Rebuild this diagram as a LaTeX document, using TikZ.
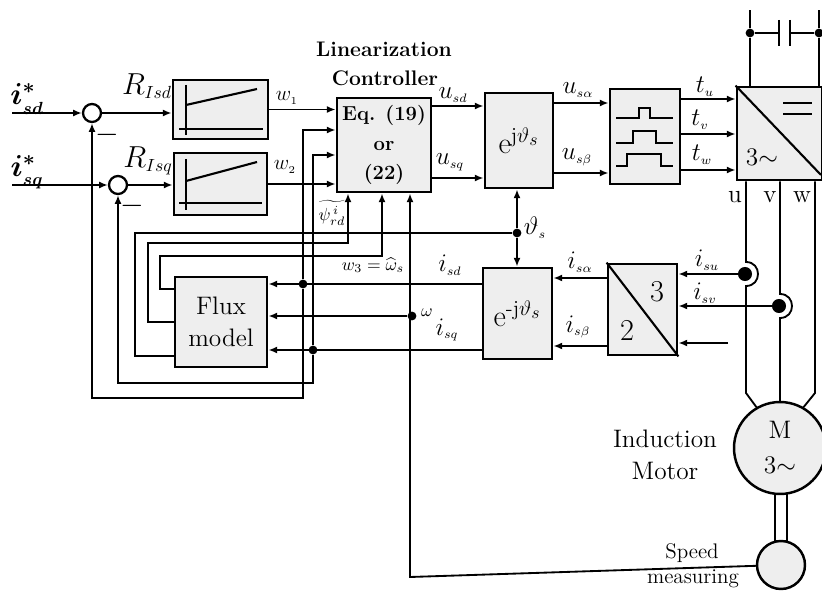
\documentclass[tikz,border=0pt]{standalone}
\usepackage{amsmath,amssymb}
\usepackage{tikz}
\usetikzlibrary{arrows.meta,positioning}
\newcommand{\sbs}[1]{_{\scriptscriptstyle #1}}

\begin{document}
\begin{tikzpicture}[
    x=0.02cm, y=-0.02cm,
    >={Latex[length=5pt,width=4pt]},
    block/.style={draw, line width=1.6pt, fill=gray!13, align=center, inner sep=0pt},
    sumnode/.style={draw, circle, line width=1.3pt, fill=white, minimum size=0.36cm, inner sep=0pt},
    dotnode/.style={circle, fill=black, minimum size=5pt, inner sep=0pt},
    bigdot/.style={circle, fill=black, minimum size=8pt, inner sep=0pt},
    machine/.style={draw, circle, line width=1.4pt, fill=gray!13, align=center, inner sep=0pt},
    wire/.style={line width=1.05pt},
    arrow/.style={->, line width=1.05pt},
    sketch/.style={line width=1.2pt},
    lbl/.style={font=\Large, inner sep=0pt},
    tag/.style={font=\normalsize, inner sep=0pt},
    txt/.style={font=\large, align=center, inner sep=0pt}
]
\useasboundingbox (0,0) rectangle (822,591);
\node[sumnode] (sumd) at (92,113) {};
\node[sumnode] (sumq) at (118,185) {};
\node[block, minimum width=1.90cm, minimum height=1.18cm] (rsd) at (220.5,109.5) {};
\node[block, minimum width=1.86cm, minimum height=1.24cm] (rsq) at (220.5,184) {};
\node[block, minimum width=1.88cm, minimum height=1.88cm, font=\fontsize{11.5}{14}\selectfont\bfseries] (ctrl) at (384,145) {Eq. (19)\\[3pt]or\\[3pt](22)};
\node[block, minimum width=1.36cm, minimum height=1.90cm, font=\LARGE] (etop) at (519,140.5) {e$^{\mathrm{j}\vartheta_s}$};
\node[block, minimum width=1.40cm, minimum height=1.90cm] (pwm) at (645,136.5) {};
\node[block, minimum width=1.70cm, minimum height=1.86cm] (inv) at (779.5,133.5) {};
\node[block, minimum width=1.38cm, minimum height=1.82cm, font=\LARGE] (ebot) at (517.5,313.5) {e$^{\text{-}\mathrm{j}\vartheta_s}$};
\node[block, minimum width=1.38cm, minimum height=1.82cm] (conv) at (642.5,309.5) {};
\node[block, minimum width=1.84cm, minimum height=1.80cm, font=\Large] (flux) at (221,322) {Flux\\model};
\node[machine, minimum size=1.84cm, font=\Large] (motor) at (780,448) {M\\[2pt]3$\sim$};
\node[machine, minimum size=0.96cm] (speed) at (781,565) {};
\coordinate (isdin) at (12,113);
\coordinate (isqin) at (12,185);
\coordinate (speedcorner) at (410,577);
\coordinate (extra) at (728,343);
\node[dotnode] (jisd) at (303,284) {};
\node[dotnode] (jisq) at (313,350) {};
\node[dotnode] (jomega) at (412,316) {};
\node[dotnode] (jtheta) at (517,233) {};
\node[dotnode] (jcapl) at (750,33) {};
\node[dotnode] (jcapr) at (819,33) {};
\node[bigdot] (jsu) at (745,274) {};
\node[bigdot] (jsv) at (779,306) {};
\draw[arrow] (isdin) -- (sumd);
\draw[arrow] (isqin) -- (sumq);
\draw[arrow] (sumd) -- (rsd.west |- sumd);
\draw[arrow] (sumq) -- (rsq.west |- sumq);
\draw[arrow] (rsd.east) -- (rsd.east -| ctrl.west);
\draw[arrow] (rsq.east) -- (rsq.east -| ctrl.west);
\draw[arrow] (ctrl.east |- 0,106) -- (etop.west |- 0,106);
\draw[arrow] (ctrl.east |- 0,178) -- (etop.west |- 0,178);
\draw[arrow] (etop.east |- 0,103) -- (pwm.west |- 0,103);
\draw[arrow] (etop.east |- 0,173) -- (pwm.west |- 0,173);
\draw[arrow] (pwm.east |- 0,99) -- (inv.west |- 0,99);
\draw[arrow] (pwm.east |- 0,134) -- (inv.west |- 0,134);
\draw[arrow] (pwm.east |- 0,170) -- (inv.west |- 0,170);
\draw[arrow] (jtheta) -- (etop.south -| jtheta);
\draw[arrow] (jtheta) -- (ebot.north -| jtheta);
\draw[arrow] (conv.west |- 0,278) -- (ebot.east |- 0,278);
\draw[arrow] (conv.west |- 0,346) -- (ebot.east |- 0,346);
\draw[arrow] (jsu) -- (conv.east |- jsu);
\draw[arrow] (jsv) -- (conv.east |- jsv);
\draw[arrow] (extra) -- (conv.east |- extra);
\draw[arrow] (ebot.west |- jisd) -- (flux.east |- jisd);
\draw[arrow] (ebot.west |- jisq) -- (flux.east |- jisq);
\draw[arrow] (jomega) -- (flux.east |- jomega);
\draw[arrow] (jisd) -- (303,130) -- (ctrl.west |- 0,130);
\draw[arrow] (jisq) -- (313,155) -- (ctrl.west |- 0,155);
\draw[arrow] (jisd) -- (303,398) -- (92,398) -- (sumd);
\draw[arrow] (jisq) -- (313,383) -- (118,383) -- (sumq);
\draw[arrow] (flux.west |- 0,289) -- (160,289) -- (160,256) -- (382,256) -- (ctrl.south -| 382,0);
\draw[arrow] (flux.west |- 0,322) -- (148,322) -- (148,243) -- (348,243) -- (ctrl.south -| 348,0);
\draw[wire] (flux.west |- 0,356) -- (135,356) -- (135,233) -- (jtheta);
\draw[arrow] (speed) -- (speedcorner) -- (ctrl.south -| speedcorner);
\draw[wire] (jcapl) -- (750,10);
\draw[wire] (jcapl) -- (inv.north -| jcapl);
\draw[wire] (jcapr) -- (819,10);
\draw[wire] (jcapr) -- (inv.north -| jcapr);
\draw[wire] (jcapl) -- (779,33);
\draw[wire] (jcapr) -- (790,33);
\draw[sketch] (779,20) -- (779,46);
\draw[sketch] (790,20) -- (790,46);
\draw[wire] (inv.south -| 746,0) -- (746,262) .. controls (762,262) and (762,286) .. (746,286) -- (746,393) -- (motor.120);
\draw[wire] (inv.south -| 780,0) -- (780,294) .. controls (796,294) and (796,318) .. (780,318) -- (motor.north);
\draw[wire] (inv.south -| 815,0) -- (815,393) -- (motor.60);
\draw[wire] (775,494) -- (775,542);
\draw[wire] (787,494) -- (787,542);
\draw[sketch] (inv.north west) -- (821,175);
\draw[sketch] (conv.north west) -- (conv.south east);
\draw[sketch] (783,103) -- (812,103);
\draw[sketch] (783,114) -- (812,114);
\draw[sketch] (186,85) -- (186,135);
\draw[sketch] (179,129) -- (263,129);
\draw[sketch] (186,105) -- (257,89);
\draw[sketch] (186,159) -- (186,210);
\draw[sketch] (179,203) -- (262,203);
\draw[sketch] (186,181) -- (257,162);
\draw[sketch] (616,118) -- (639,118) -- (639,108) -- (650,108) -- (650,118) -- (673,118);
\draw[sketch] (616,143) -- (633,143) -- (633,131) -- (656,131) -- (656,143) -- (673,143);
\draw[sketch] (616,166) -- (627,166) -- (627,154) -- (661,154) -- (661,166) -- (673,166);
\node[txt, font=\large\bfseries] (titlea) at (384,49) {Linearization};
\node[txt, font=\large\bfseries] (titleb) at (385,78) {Controller};
\node[lbl, font=\LARGE\boldmath] (lisd) at (27,99) {$i\sbs{sd}^{*}$};
\node[lbl, font=\LARGE\boldmath] (lisq) at (27,172) {$i\sbs{sq}^{*}$};
\node[lbl, font=\LARGE] (lrsd) at (147,86) {$R\sbs{Isd}$};
\node[lbl, font=\LARGE] (lrsq) at (148,161) {$R\sbs{Isq}$};
\node[tag, font=\large] (lwa) at (287,98) {$w\sbs{1}$};
\node[tag, font=\large] (lwb) at (285,167) {$w\sbs{2}$};
\node[tag] (lwc) at (373,265) {$w_3=\widehat{\omega}_s$};
\node[tag] (lpsi) at (332,213) {$\widetilde{\psi_{rd}^{\,i}}$};
\node[lbl] (lusd) at (453,95) {$u\sbs{sd}$};
\node[lbl] (lusq) at (450,162) {$u\sbs{sq}$};
\node[lbl] (lua) at (578,90) {$u\sbs{s\alpha}$};
\node[lbl] (lub) at (577,157) {$u\sbs{s\beta}$};
\node[lbl] (ltu) at (705,87) {$t\sbs{u}$};
\node[lbl] (ltv) at (700,120) {$t\sbs{v}$};
\node[lbl] (ltw) at (702,155) {$t\sbs{w}$};
\node[lbl] (lth) at (535,228) {$\vartheta\sbs{s}$};
\node[lbl] (lid) at (450,265) {$i\sbs{sd}$};
\node[lbl] (liq) at (447,330) {$i\sbs{sq}$};
\node[tag] (lom) at (427,313) {$\omega$};
\node[lbl] (lia) at (580,262) {$i\sbs{s\alpha}$};
\node[lbl] (lib) at (578,327) {$i\sbs{s\beta}$};
\node[lbl] (liu) at (707,260) {$i\sbs{su}$};
\node[lbl] (liv) at (705,293) {$i\sbs{sv}$};
\node[txt, font=\LARGE] (lminusd) at (107,135) {$-$};
\node[txt, font=\LARGE] (lminusq) at (132,206) {$-$};
\node[txt, font=\Large] (lthree) at (762,157) {3$\sim$};
\node[txt, font=\Large] (lu) at (735,197) {u};
\node[txt, font=\Large] (lv) at (770,197) {v};
\node[txt, font=\Large] (lw) at (802,197) {w};
\node[txt, font=\LARGE] (lconva) at (657,292) {3};
\node[txt, font=\LARGE] (lconvb) at (627,330) {2};
\node[txt, font=\Large] (lim) at (665,455) {Induction\\Motor};
\node[txt] (lsp) at (692,553) {Speed};
\node[txt] (lme) at (693,579) {measuring};
\end{tikzpicture}
\end{document}
